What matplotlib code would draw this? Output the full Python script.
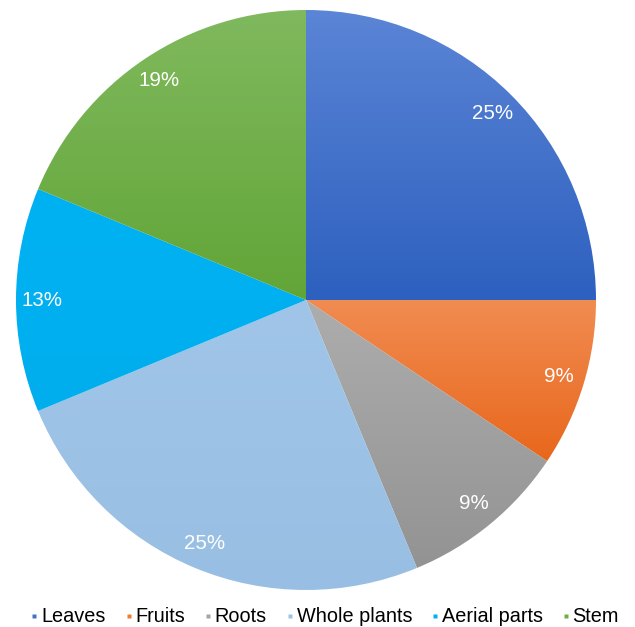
import numpy as np
import matplotlib.pyplot as plt
from matplotlib.colors import LinearSegmentedColormap
from matplotlib.lines import Line2D

plt.rcParams['font.family'] = ['Liberation Sans', 'DejaVu Sans']

categories = ['Leaves', 'Fruits', 'Roots', 'Whole plants', 'Aerial parts', 'Stem']
counts = [8, 3, 3, 8, 4, 6]
pct_labels = ['25%', '9%', '9%', '25%', '13%', '19%']
# (top colour, bottom colour) of each slice's vertical shading
shades = [('#5b85d6', '#2d60bf'),
          ('#f18c52', '#e8671c'),
          ('#adadad', '#939393'),
          ('#a0c5e8', '#98bfe3'),
          ('#00b2f2', '#00aeee'),
          ('#80b95e', '#62a537')]
legend_colors = ['#4472c4', '#ed7d31', '#a5a5a5', '#9dc3e6', '#00b0f0', '#70ad47']

fig = plt.figure(figsize=(6.35, 6.27), dpi=100)
ax = fig.add_axes([16 / 635, 37 / 627, 580 / 635, 580 / 627])

wedges, _ = ax.pie(counts, startangle=90, counterclock=False,
                   colors=legend_colors, radius=1.0,
                   wedgeprops=dict(linewidth=0))

grad = np.linspace(0, 1, 256).reshape(-1, 1)
for w, (top, bottom) in zip(wedges, shades):
    w.set_facecolor('none')
    cmap = LinearSegmentedColormap.from_list('g', [top, bottom])
    verts = w.get_path().vertices
    x0, x1 = verts[:, 0].min(), verts[:, 0].max()
    y0, y1 = verts[:, 1].min(), verts[:, 1].max()
    im = ax.imshow(grad, cmap=cmap, extent=[x0, x1, y0, y1],
                   origin='upper', aspect='auto', zorder=1)
    im.set_clip_path(w)

total = sum(counts)
angle = 90.0
for c, lab in zip(counts, pct_labels):
    span = 360.0 * c / total
    mid = np.deg2rad(angle - span / 2)
    ax.text(0.91 * np.cos(mid), 0.91 * np.sin(mid), lab, color='white',
            fontsize=14.8, ha='center', va='center', zorder=3)
    angle -= span

ax.set_xlim(-1, 1)
ax.set_ylim(-1, 1)
ax.set_aspect('equal')
ax.axis('off')

handles = [Line2D([], [], marker='s', linestyle='none', markersize=3.5,
                  markerfacecolor=col, markeredgecolor='none')
           for col in legend_colors]
fig.legend(handles, categories, loc='center', bbox_to_anchor=(325 / 635, 10 / 627),
           ncol=6, frameon=False, fontsize=14.3, handlelength=0.35,
           handletextpad=0.15, columnspacing=1.0, borderaxespad=0)

fig.savefig('out.png', dpi=100)
